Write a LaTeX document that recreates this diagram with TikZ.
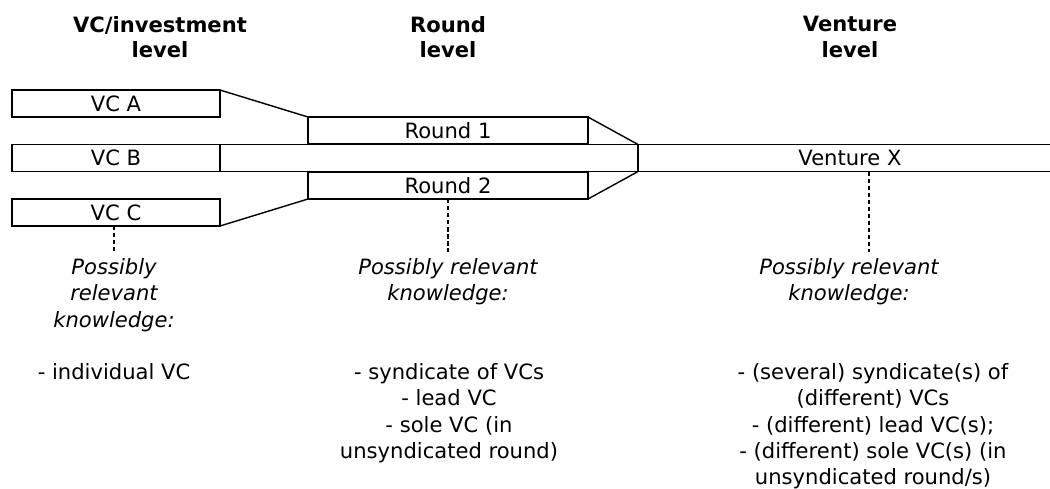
\documentclass[tikz,border=0pt]{standalone}
\usepackage{fontspec}
\setmainfont{DejaVu Sans}
\newcommand\dgmfont{\fontsize{12}{15}\selectfont}
\tikzset{
  box/.style={draw, line width=0.8pt, inner sep=0pt, outer sep=0pt, minimum height=0.54cm, font=\dgmfont},
  head/.style={anchor=north, align=center, inner sep=0pt, font={\bfseries\fontsize{12}{14.5}\selectfont}},
  note/.style={anchor=north, align=center, inner sep=0pt, font={\itshape\dgmfont}},
  list/.style={anchor=north, align=center, inner sep=0pt, font=\dgmfont},
  link/.style={line width=0.8pt},
  guide/.style={line width=0.7pt, dash pattern=on 2.5pt off 1.5pt}
}
\begin{document}
\begin{tikzpicture}[x=0.02cm, y=-0.02cm]
	\useasboundingbox (0,0) rectangle (1050,488);
	% levels
	\node[head] (hvc) at (160,16) {VC/investment\\level};
	\node[head] (hround) at (448,16) {Round\\level};
	\node[head] (hventure) at (850,16) {Venture\\level};
	% investments, rounds, venture
	\node[box, minimum width=4.16cm] (vcA) at (116,103.5) {VC A};
	\node[box, minimum width=4.16cm] (vcB) at (116,158) {VC B};
	\node[box, minimum width=4.16cm] (vcC) at (116,212.5) {VC C};
	\node[box, minimum width=5.6cm] (r1) at (448,130.5) {Round 1};
	\node[box, minimum width=5.6cm] (r2) at (448,185.5) {Round 2};
	\node[box, draw=none, minimum width=8.48cm] (venture) at (850,158) {Venture X};
	\draw[link] (venture.north east) -- (venture.north west) -- (venture.south west) -- (venture.south east);
	% funnel
	\draw[link] (vcA.north east) -- (r1.north west);
	\draw[link] (vcC.south east) -- (r2.south west);
	\draw[link] (vcB.north east) -- (venture.north west);
	\draw[link] (vcB.south east) -- (venture.south west);
	\draw[link] (r1.north east) -- (venture.north west);
	\draw[link] (r2.south east) -- (venture.south west);
	% knowledge
	\coordinate (dvc) at (114,252);
	\coordinate (dround) at (448,252);
	\coordinate (dventure) at (869,252);
	\draw[guide] (vcC.south -| dvc) -- (dvc);
	\draw[guide] (r2.south -| dround) -- (dround);
	\draw[guide] (venture.south -| dventure) -- (dventure);
	\node[note] (kvc) at (114,258) {Possibly\\relevant\\knowledge:};
	\node[note] (kround) at (448,258) {Possibly relevant\\knowledge:};
	\node[note] (kventure) at (849,258) {Possibly relevant\\knowledge:};
	\node[list] (lvc) at (114,363) {- individual VC};
	\node[list] (lround) at (449,363) {- syndicate of VCs\\- lead VC\\- sole VC (in\\unsyndicated round)};
	\node[list] (lventure) at (873,363) {- (several) syndicate(s) of\\(different) VCs\\- (different) lead VC(s);\\- (different) sole VC(s) (in\\unsyndicated round/s)};
\end{tikzpicture}
\end{document}
